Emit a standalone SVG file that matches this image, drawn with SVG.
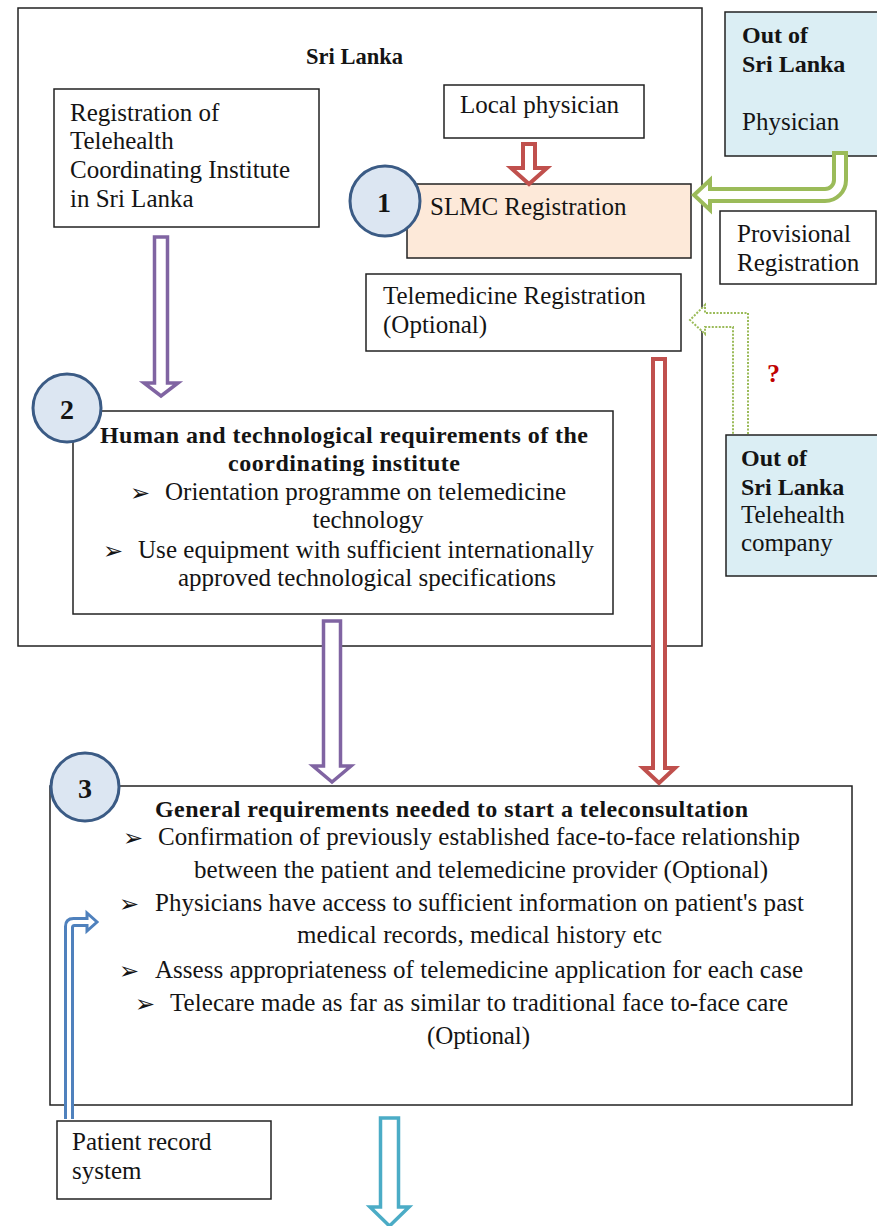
<svg xmlns="http://www.w3.org/2000/svg" width="877" height="1226" viewBox="0 0 877 1226">
  <style>
    text { font-family: "Liberation Serif", "Times New Roman", serif; font-size: 25px; fill: #141414; }
    .b { font-weight: bold; font-size: 24px; }
    .mid { text-anchor: middle; }
    .box { fill: #fff; stroke: #222; stroke-width: 1.5; }
    .sky { fill: #dbeef4; stroke: #222; stroke-width: 1.5; }
    .peach { fill: #fde9d9; stroke: #222; stroke-width: 1.5; }
    .num { fill: #dce6f2; stroke: #3b5b85; stroke-width: 3; }
    .numt { font-weight: bold; font-size: 28px; text-anchor: middle; }
    .bul { font-family: "DejaVu Sans", sans-serif; font-size: 24px; }
    .q { font-weight: bold; font-size: 26px; fill: #c00000; }
    .a-red { fill: #fff; stroke: #c0504d; stroke-width: 4; stroke-linejoin: miter; }
    .a-pur { fill: #fff; stroke: #8064a2; stroke-width: 3.5; }
    .a-grn { fill: #fff; stroke: #9bbb59; stroke-width: 4; }
    .a-dot { fill: #fff; stroke: #9bbb59; stroke-width: 2; stroke-dasharray: 2 1.5; }
    .a-blu { fill: #fff; stroke: #4f81bd; stroke-width: 3; }
    .a-cya { fill: #fff; stroke: #4bacc6; stroke-width: 3.5; }
  </style>

  <!-- country boundary -->
  <g id="sri-lanka">
    <rect class="box" x="18" y="8" width="684" height="638"/>
    <text class="b" x="306" y="64" style="font-size:22.5px">Sri Lanka</text>
  </g>

  <g id="coordinating-institute">
    <rect class="box" x="54" y="89" width="265" height="138"/>
    <text x="70" y="121">Registration of</text>
    <text x="70" y="149">Telehealth</text>
    <text x="70" y="178">Coordinating Institute</text>
    <text x="70" y="207">in Sri Lanka</text>
  </g>

  <g id="local-physician">
    <rect class="box" x="444" y="85" width="200" height="53"/>
    <text x="460" y="113">Local physician</text>
  </g>

  <g id="slmc-registration">
    <rect class="peach" x="407" y="184" width="284" height="74"/>
    <text x="430" y="215">SLMC Registration</text>
    <circle class="num" cx="385" cy="201" r="35"/>
    <text class="numt" x="384" y="212">1</text>
  </g>

  <g id="telemedicine-registration">
    <rect class="box" x="366" y="274" width="315" height="77"/>
    <text x="383" y="304">Telemedicine Registration</text>
    <text x="383" y="333">(Optional)</text>
  </g>

  <g id="foreign-physician">
    <rect class="sky" x="725" y="12" width="160" height="144"/>
    <text class="b" x="742" y="43">Out of</text>
    <text class="b" x="742" y="72">Sri Lanka</text>
    <text x="742" y="130">Physician</text>
  </g>

  <g id="provisional-registration">
    <rect class="box" x="720" y="211" width="156" height="73"/>
    <text x="737" y="242">Provisional</text>
    <text x="737" y="271">Registration</text>
  </g>

  <g id="foreign-telehealth-company">
    <rect class="sky" x="726" y="435" width="160" height="141"/>
    <text class="b" x="741" y="466">Out of</text>
    <text class="b" x="741" y="495">Sri Lanka</text>
    <text x="741" y="523">Telehealth</text>
    <text x="741" y="551">company</text>
  </g>

  <g id="institute-requirements">
    <rect class="box" x="73" y="411" width="540" height="203"/>
    <text class="b mid" x="344" y="443" textLength="488" lengthAdjust="spacing">Human and technological requirements of the</text>
    <text class="b mid" x="344" y="471" textLength="232" lengthAdjust="spacing">coordinating institute</text>
    <text class="bul" x="130" y="501">➢</text>
    <text x="165" y="500" textLength="401" lengthAdjust="spacing">Orientation programme on telemedicine</text>
    <text class="mid" x="368" y="528">technology</text>
    <text class="bul" x="103" y="559">➢</text>
    <text x="138" y="558" textLength="456" lengthAdjust="spacing">Use equipment with sufficient internationally</text>
    <text x="178" y="586" textLength="378" lengthAdjust="spacing">approved technological specifications</text>
    <circle class="num" cx="67" cy="408" r="34"/>
    <text class="numt" x="67" y="419">2</text>
  </g>

  <g id="teleconsultation-requirements">
    <rect class="box" x="50" y="786" width="802" height="319"/>
    <text class="b" x="155" y="817" textLength="593" lengthAdjust="spacing">General requirements needed to start a teleconsultation</text>
    <text class="bul" x="123" y="846">➢</text>
    <text x="158" y="845" textLength="642" lengthAdjust="spacing">Confirmation of previously established face-to-face relationship</text>
    <text x="194" y="878" textLength="574" lengthAdjust="spacing">between the patient and telemedicine provider (Optional)</text>
    <text class="bul" x="119" y="912">➢</text>
    <text x="155" y="911" textLength="649" lengthAdjust="spacing">Physicians have access to sufficient information on patient's past</text>
    <text x="297" y="943" textLength="365" lengthAdjust="spacing">medical records, medical history etc</text>
    <text class="bul" x="119" y="979">➢</text>
    <text x="155" y="978" textLength="648" lengthAdjust="spacing">Assess appropriateness of telemedicine application for each case</text>
    <text class="bul" x="135" y="1012">➢</text>
    <text x="170" y="1011" textLength="618" lengthAdjust="spacing">Telecare made as far as similar to traditional face to-face care</text>
    <text x="427" y="1044" textLength="103" lengthAdjust="spacing">(Optional)</text>
    <circle class="num" cx="85" cy="787" r="34"/>
    <text class="numt" x="85" y="798">3</text>
  </g>

  <g id="patient-record-system">
    <rect class="box" x="57" y="1121" width="214" height="78"/>
    <text x="72" y="1150">Patient record</text>
    <text x="72" y="1179">system</text>
  </g>

  <!-- block-arrow connectors -->
  <g id="connectors">
    <!-- local physician -> SLMC -->
    <path class="a-red" d="M523,144 H535 V168 H547 L529,184 L511,168 H523 Z"/>
    <!-- foreign physician -> SLMC (bent) -->
    <path class="a-grn" d="M834,153 H846 V180 A21,21 0 0 1 825,201 H710 V210 L694,195 L710,180 V189 H825 A9,9 0 0 0 834,180 Z"/>
    <!-- foreign company -> telemedicine registration (uncertain, dotted) -->
    <path class="a-dot" d="M748,434 V313 H705 V305 L690,320 L705,334 V327 H733 V434"/>
    <text class="q" x="767" y="382">?</text>
    <!-- coordinating institute -> requirements -->
    <path class="a-pur" d="M154.5,237 H167.5 V383 H178 L161,396 L144,383 H154.5 Z"/>
    <!-- requirements -> teleconsultation -->
    <path class="a-pur" d="M323.5,621 H340.5 V766 H351 L332,782 L313,766 H323.5 Z"/>
    <!-- telemedicine registration -> teleconsultation -->
    <path class="a-red" d="M653,359 H665 V768 H675 L659,783 L643,768 H653 Z"/>
    <!-- patient record system -> teleconsultation -->
    <path class="a-blu" d="M65.5,1119 V926.5 Q65.5,918.5 73.5,918.5 H87 V913 L97,922 L87,931 V925.5 H74.5 Q72.5,925.5 72.5,927.5 V1119"/>
    <!-- onward -->
    <path class="a-cya" d="M380.5,1118 H398.5 V1207 H409 L389.5,1226 L370,1207 H380.5 Z"/>
  </g>
</svg>
